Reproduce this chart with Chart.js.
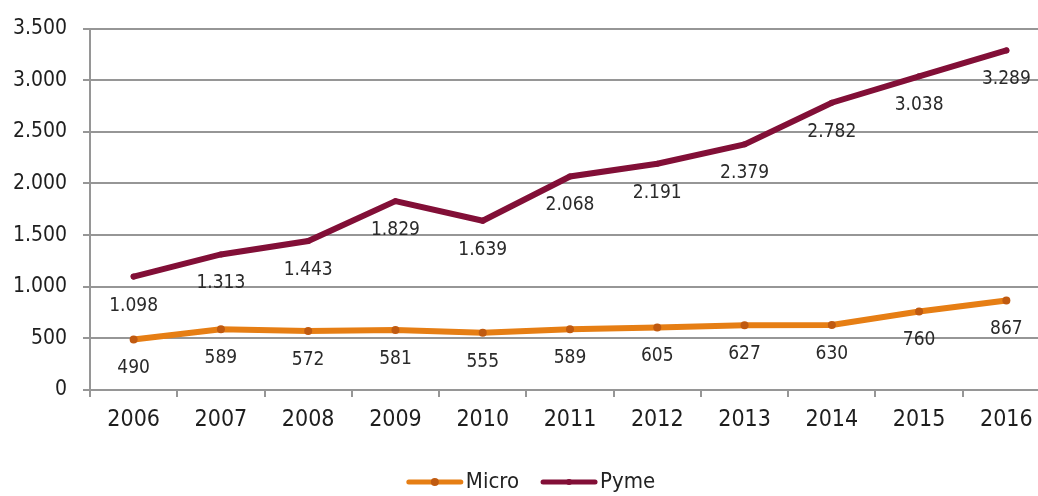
<!DOCTYPE html>
<html>
<head>
<meta charset="utf-8">
<script src="https://cdn.jsdelivr.net/npm/chart.js@4"></script>
<style>
  html, body { margin: 0; padding: 0; background: #fff; overflow: hidden; }
  #wrap { position: relative; width: 1060px; height: 496px; }
  canvas { display: block; }
</style>
</head>
<body>
<div id="wrap"><canvas id="c" width="1060" height="496"></canvas></div>
<script>
const categories = ['2006','2007','2008','2009','2010','2011','2012','2013','2014','2015','2016'];
const microValues = [490, 589, 572, 581, 555, 589, 605, 627, 630, 760, 867];
const pymeValues = [1098, 1313, 1443, 1829, 1639, 2068, 2191, 2379, 2782, 3038, 3289];
const seriesNames = ['Micro', 'Pyme'];

const FONT = '"DejaVu Sans Condensed", "DejaVu Sans", sans-serif';
const GRID = '#969696';
const fmt = v => String(v).replace(/\B(?=(\d{3})+(?!\d))/g, '.');

const dataLabels = {
  id: 'dataLabels',
  afterDatasetsDraw(chart) {
    const ctx = chart.ctx;
    ctx.save();
    ctx.font = '19px ' + FONT;
    ctx.fillStyle = '#2a2a2a';
    ctx.textAlign = 'center';
    ctx.textBaseline = 'middle';
    chart.data.datasets.forEach((ds, i) => {
      const meta = chart.getDatasetMeta(i);
      meta.data.forEach((pt, j) => {
        ctx.fillText(fmt(ds.data[j]), pt.x, pt.y + 29);
      });
    });
    ctx.restore();
  }
};

const lineLegend = {
  id: 'lineLegend',
  afterDraw(chart) {
    const ctx = chart.ctx;
    ctx.save();
    ctx.font = '22px ' + FONT;
    ctx.textBaseline = 'middle';
    ctx.textAlign = 'left';
    const lineLen = 56, gap = 3, itemGap = 22, cy = 482, cx = 531;
    const items = chart.data.datasets.map(ds => ({ ds, w: ctx.measureText(ds.label).width }));
    let total = items.reduce((s, it) => s + lineLen + gap + it.w, 0) + itemGap * (items.length - 1);
    let x = cx - total / 2;
    items.forEach(it => {
      ctx.strokeStyle = it.ds.borderColor;
      ctx.lineWidth = 5;
      ctx.lineCap = 'round';
      ctx.beginPath();
      ctx.moveTo(x + 2, cy);
      ctx.lineTo(x + lineLen - 2, cy);
      ctx.stroke();
      ctx.fillStyle = it.ds.pointBackgroundColor;
      ctx.beginPath();
      ctx.arc(x + lineLen / 2, cy, it.ds.pointRadius, 0, Math.PI * 2);
      ctx.fill();
      ctx.fillStyle = '#222';
      ctx.fillText(it.ds.label, x + lineLen + gap, cy);
      x += lineLen + gap + it.w + itemGap;
    });
    ctx.restore();
  }
};

new Chart(document.getElementById('c'), {
  type: 'line',
  data: {
    labels: categories,
    datasets: [
      {
        label: seriesNames[0],
        data: microValues,
        borderColor: '#E67E14',
        backgroundColor: '#E67E14',
        borderWidth: 6,
        pointRadius: 4,
        pointBackgroundColor: '#C05A10',
        pointBorderWidth: 0,
        tension: 0,
        borderCapStyle: 'round'
      },
      {
        label: seriesNames[1],
        data: pymeValues,
        borderColor: '#820F37',
        backgroundColor: '#820F37',
        borderWidth: 6,
        pointRadius: 3,
        pointBackgroundColor: '#820F37',
        pointBorderWidth: 0,
        tension: 0,
        borderCapStyle: 'round'
      }
    ]
  },
  options: {
    responsive: false,
    maintainAspectRatio: false,
    animation: false,
    devicePixelRatio: 1,
    layout: { padding: { top: 25, right: 10, left: 0, bottom: 33 } },
    plugins: {
      tooltip: { enabled: false },
      legend: { display: false }
    },
    scales: {
      x: {
        offset: true,
        border: { display: true, color: GRID, width: 2 },
        grid: { offset: true, drawOnChartArea: false, drawTicks: true, tickLength: 7, color: GRID, lineWidth: 2 },
        ticks: { font: { family: FONT, size: 23 }, color: '#1e1e1e', padding: 9, maxRotation: 0 },
        afterFit(scale) { scale.height = 73; }
      },
      y: {
        min: 0,
        max: 3500,
        border: { display: true, color: GRID, width: 2 },
        grid: { color: GRID, lineWidth: 2, tickLength: 7, drawTicks: true },
        ticks: { stepSize: 500, font: { family: FONT, size: 21 }, color: '#1e1e1e', padding: 16, callback: v => fmt(v) },
        afterFit(scale) { scale.width = 90; }
      }
    }
  },
  plugins: [dataLabels, lineLegend]
});
</script>
</body>
</html>
